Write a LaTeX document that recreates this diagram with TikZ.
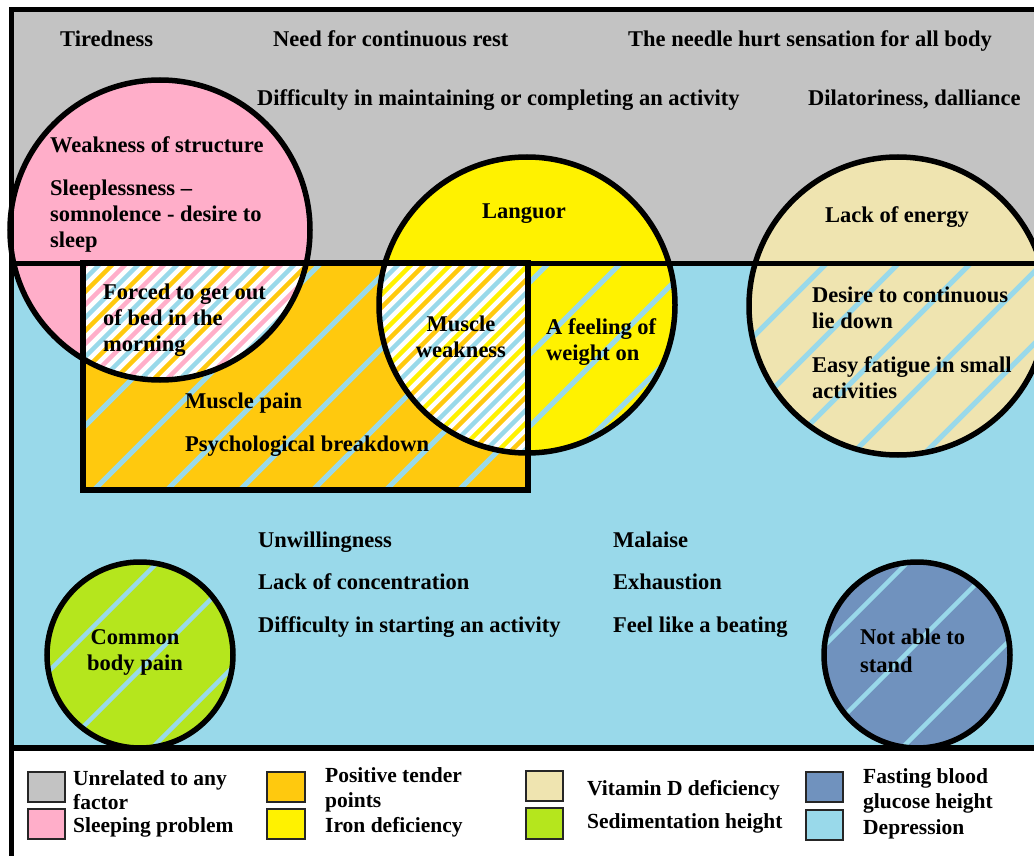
\documentclass[tikz,border=0pt]{standalone}
\usepackage{fontspec}
\setmainfont{Liberation Serif}
\usepackage{tikz}

\definecolor{paintgray}{HTML}{C3C3C3}
\definecolor{sleeppink}{HTML}{FFAEC9}
\definecolor{tenderorange}{HTML}{FFC90E}
\definecolor{ironyellow}{HTML}{FFF200}
\definecolor{vitbeige}{HTML}{EFE4B0}
\definecolor{sedgreen}{HTML}{B5E61D}
\definecolor{glucblue}{HTML}{7092BE}
\definecolor{depblue}{HTML}{99D9EA}

% diagonal stripes: colour, first offset, gap, width
\newcommand{\hatchband}[4]{%
  \foreach \k in {0,...,160}
    \draw[#1,line width=#4] ({#2+\k*#3+100},-100) -- ({#2+\k*#3-900},900);}

\begin{document}
\begin{tikzpicture}[x=1pt,y=-1pt,
  sym/.style={font=\fontsize{22.5}{26}\selectfont\bfseries, inner sep=0pt, anchor=base west},
  symblock/.style={sym, align=left, anchor=north west},
  key/.style={font=\fontsize{21.5}{24.5}\selectfont\bfseries, inner sep=0pt, align=left, anchor=west},
  keybox/.style={draw=black!85, line width=1.3pt},
  ring/.style={draw=black, line width=5.5pt}]
  \useasboundingbox (0,0) rectangle (1034,856);
  % Backgrounds
  \fill[white] (0,0) rectangle (1034,856);
  \fill[paintgray] (11,10) rectangle (1034,263);
  \fill[depblue] (11,263) rectangle (1034,748);
  % Tender points box
  \fill[tenderorange] (83,263) rectangle (528,490);
  \begin{scope}
    \clip (83,263) rectangle (528,490);
    \hatchband{depblue}{0}{73}{5}
  \end{scope}
  % Sleeping problem circle
  \fill[sleeppink] (160,230) circle[radius=150pt];
  \begin{scope}
    \clip (83,263) rectangle (528,490);
    \clip (160,230) circle[radius=150pt];
    \fill[white] (0,0) rectangle (1034,856);
    \hatchband{sleeppink}{0}{39}{4.5}
    \hatchband{depblue}{13}{39}{4.5}
    \hatchband{tenderorange}{26}{39}{4.5}
  \end{scope}
  % Iron deficiency circle
  \fill[ironyellow] (527,305) circle[radius=148pt];
  \begin{scope}
    \clip (11,263) rectangle (1034,748);
    \clip (527,305) circle[radius=148pt];
    \hatchband{depblue}{20}{72}{5}
  \end{scope}
  \begin{scope}
    \clip (83,263) rectangle (528,490);
    \clip (527,305) circle[radius=148pt];
    \fill[white] (0,0) rectangle (1034,856);
    \hatchband{depblue}{0}{39}{4.5}
    \hatchband{ironyellow}{13}{39}{4.5}
    \hatchband{tenderorange}{26}{39}{4.5}
  \end{scope}
  % Vitamin D circle
  \fill[vitbeige] (898,306) circle[radius=149pt];
  \begin{scope}
    \clip (11,263) rectangle (1034,748);
    \clip (898,306) circle[radius=149pt];
    \hatchband{depblue}{10}{72}{5}
  \end{scope}
  % Sedimentation and glucose circles
  \fill[sedgreen] (140,655) circle[radius=93pt];
  \begin{scope}
    \clip (140,655) circle[radius=93pt];
    \hatchband{depblue}{0}{90}{4.5}
  \end{scope}
  \fill[glucblue] (917,655) circle[radius=93pt];
  \begin{scope}
    \clip (917,655) circle[radius=93pt];
    \hatchband{depblue}{30}{90}{4.5}
  \end{scope}
  % Outlines
  \draw[ring] (160,230) circle[radius=150pt];
  \draw[ring] (527,305) circle[radius=148pt];
  \draw[ring] (898,306) circle[radius=149pt];
  \draw[ring] (140,655) circle[radius=93pt];
  \draw[ring] (917,655) circle[radius=93pt];
  \draw[ring] (83,263) rectangle (528,490);
  % Frame
  \draw[line width=5pt] (11,856) -- (11,10) -- (1034,10);
  \draw[line width=5pt] (11,263) -- (1034,263);
  \draw[line width=6pt] (11,748) -- (1034,748);

  % Unrelated symptoms
  \node[sym] (tired) at (60,46.5) {Tiredness};
  \node[sym] (rest) at (273,46.5) {Need for continuous rest};
  \node[sym] (needle) at (628,46.5) {The needle hurt sensation for all body};
  \node[sym] (maintain) at (257,105.5) {Difficulty in maintaining or completing an activity};
  \node[sym] (dilatory) at (808,105.5) {Dilatoriness, dalliance};
  % Sleeping problem
  \node[sym] (weakstruct) at (50,152.5) {Weakness of structure};
  \node[symblock] (sleepless) at (50,180) {Sleeplessness --\\somnolence - desire to\\sleep};
  \node[symblock] (forced) at (103,284) {Forced to get out\\of bed in the\\morning};
  % Iron deficiency
  \node[sym] (languor) at (482,218.5) {Languor};
  \node[sym, align=center, anchor=north] (muscleweak) at (461,316) {Muscle\\weakness};
  \node[symblock] (feeling) at (546,318) {A feeling of\\weight on};
  % Vitamin D
  \node[sym] (energy) at (825,222.5) {Lack of energy};
  \node[symblock] (liedown) at (812,287) {Desire to continuous\\lie down};
  \node[symblock] (fatigue) at (812,356) {Easy fatigue in small\\activities};
  % Tender points
  \node[sym] (musclepain) at (185,408.5) {Muscle pain};
  \node[sym] (psych) at (185,451.5) {Psychological breakdown};
  % Depression
  \node[sym] (unwill) at (258,547.5) {Unwillingness};
  \node[sym] (concentr) at (258,589.5) {Lack of concentration};
  \node[sym] (starting) at (258,632.5) {Difficulty in starting an activity};
  \node[sym] (malaise) at (613,547.5) {Malaise};
  \node[sym] (exhaust) at (613,589.5) {Exhaustion};
  \node[sym] (beating) at (613,632.5) {Feel like a beating};
  \node[sym, align=center, anchor=north] (bodypain) at (135,629) {Common\\body pain};
  \node[symblock] (notstand) at (860,629) {Not able to\\[2pt]stand};

  % Legend
  \draw[keybox, fill=paintgray] (28,772) rectangle (65,802);
  \draw[keybox, fill=sleeppink] (28,809) rectangle (65,839);
  \draw[keybox, fill=tenderorange] (267,772) rectangle (305,802);
  \draw[keybox, fill=ironyellow] (267,809) rectangle (305,839);
  \draw[keybox, fill=vitbeige] (526,771) rectangle (563,801);
  \draw[keybox, fill=sedgreen] (526,808) rectangle (563,839);
  \draw[keybox, fill=glucblue] (806,772) rectangle (843,802);
  \draw[keybox, fill=depblue] (806,810) rectangle (843,840);
  \node[key] (kunrel) at (73,790) {Unrelated to any\\factor};
  \node[key] (ksleep) at (73,827) {Sleeping problem};
  \node[key] (ktender) at (325,790) {Positive tender\\points};
  \node[key] (kiron) at (325,827) {Iron deficiency};
  \node[key] (kvitd) at (587,790) {Vitamin D deficiency};
  \node[key] (ksed) at (587,823) {Sedimentation height};
  \node[key] (kgluc) at (863,791) {Fasting blood\\glucose height};
  \node[key] (kdep) at (863,829) {Depression};
\end{tikzpicture}
\end{document}
